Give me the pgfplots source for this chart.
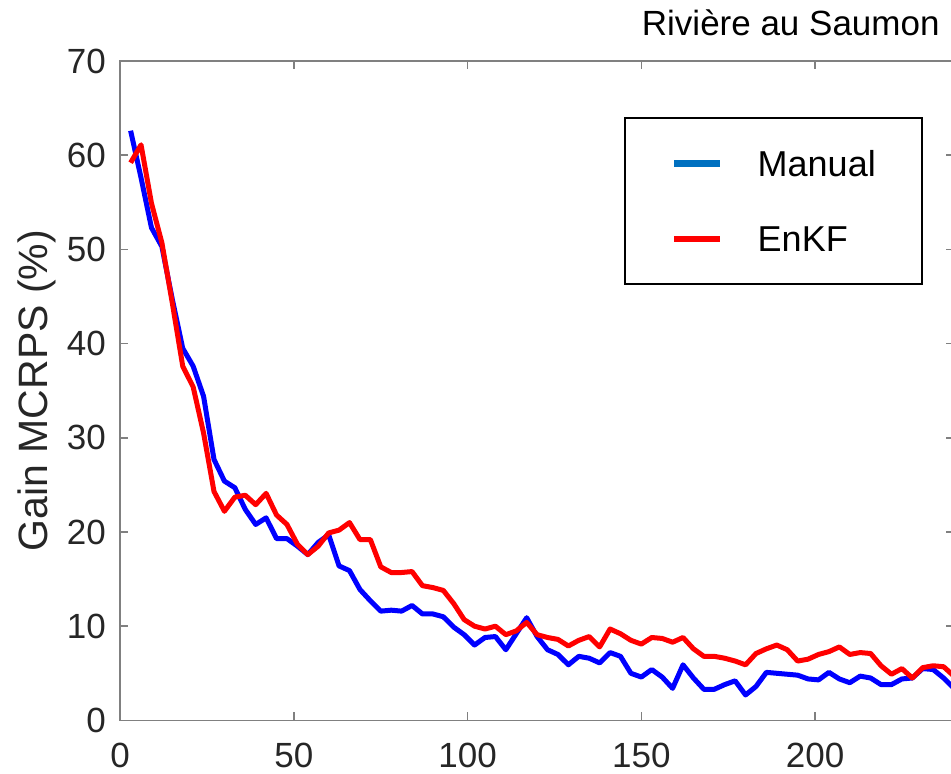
\documentclass[border=0pt]{standalone}
\usepackage{fontspec}
\setmainfont{Liberation Sans}
\usepackage{pgfplots}
\pgfplotsset{compat=1.18}
\definecolor{axgray}{RGB}{128,128,128}
\definecolor{lblgray}{RGB}{38,38,38}
\definecolor{manblue}{RGB}{0,112,192}
\definecolor{mblue}{RGB}{0,0,255}
\definecolor{ered}{RGB}{255,0,0}
\begin{document}
\begin{tikzpicture}
\begin{axis}[
 name=ax, at={(0,0)}, anchor=south west,
 scale only axis, width=416.9pt, height=329.7pt,
 xmin=0, xmax=240, ymin=0, ymax=70,
 xtick={0,50,...,200}, ytick={0,10,...,70},
 tick align=inside, major tick length=4pt,
 axis line style={axgray, line width=0.75pt},
 tick style={axgray, line width=0.75pt},
 tick label style={font=\fontsize{17.5}{17.5}\selectfont, text=lblgray},
 /pgf/number format/assume math mode=true,
 xticklabel style={inner sep=0pt, yshift=-11pt},
 yticklabel style={inner sep=0pt, xshift=-7pt},
 ylabel={Gain MCRPS (\%)},
 ylabel style={at={(rel axis cs:-0.0876,0.5)}, anchor=base, font=\fontsize{20.5}{20.5}\selectfont, text=lblgray, inner sep=0pt},
 title={Rivière au Saumon},
 every axis title shift=0pt,
 title style={at={(rel axis cs:0.9832,1.0387)}, anchor=base east, inner sep=0pt, font=\fontsize{17.5}{17.5}\selectfont},
 legend cell align=left,
 legend style={at={(rel axis cs:0.6046,0.9155)}, anchor=north west, draw=black, line width=1pt,
   inner xsep=22.9pt, inner ysep=16.5pt, row sep=24.9pt, column sep=17pt,
   nodes={inner sep=0pt, text depth=0pt}, font=\fontsize{18}{18}\selectfont},
 legend image code/.code={\draw[#1] (0pt,0pt) -- (23pt,0pt);},
]
\addplot[mblue, line width=2.5pt, line join=round, forget plot] coordinates {
(3,62.6)(6,57.6)(9,52.3)(12,50.3)(15,44.7)(18,39.5)(21,37.6)(24,34.4)(27,27.7)(30,25.4)
(33,24.7)(36,22.4)(39,20.8)(42,21.5)(45,19.3)(48,19.3)(51,18.5)(54,17.6)(57,18.9)(60,19.7)
(63,16.4)(66,15.9)(69,13.9)(72,12.7)(75,11.6)(78,11.7)(81,11.6)(84,12.2)(87,11.3)(90,11.3)
(93,11.0)(96,9.9)(99,9.1)(102,8.0)(105,8.8)(108,8.9)(111,7.5)(114,9.2)(117,10.9)(120,8.9)
(123,7.5)(126,7.0)(129,5.9)(132,6.8)(135,6.6)(138,6.1)(141,7.2)(144,6.8)(147,5.0)(150,4.6)
(153,5.4)(156,4.6)(159,3.4)(162,5.9)(165,4.5)(168,3.3)(171,3.3)(174,3.8)(177,4.2)(180,2.7)
(183,3.6)(186,5.1)(189,5.0)(192,4.9)(195,4.8)(198,4.4)(201,4.3)(204,5.1)(207,4.4)(210,4.0)
(213,4.7)(216,4.5)(219,3.8)(222,3.8)(225,4.4)(228,4.5)(231,5.5)(234,5.4)(237,4.5)(240,3.4)
};
\addplot[ered, line width=2.5pt, line join=round, forget plot] coordinates {
(3,59.2)(6,61.1)(9,54.9)(12,50.7)(15,44.3)(18,37.6)(21,35.4)(24,30.5)(27,24.3)(30,22.2)
(33,23.7)(36,23.9)(39,22.9)(42,24.1)(45,21.8)(48,20.8)(51,18.7)(54,17.6)(57,18.5)(60,19.9)
(63,20.2)(66,21.0)(69,19.2)(72,19.2)(75,16.3)(78,15.7)(81,15.7)(84,15.8)(87,14.3)(90,14.1)
(93,13.8)(96,12.4)(99,10.7)(102,10.0)(105,9.7)(108,10.0)(111,9.1)(114,9.5)(117,10.4)(120,9.1)
(123,8.8)(126,8.6)(129,7.9)(132,8.5)(135,8.9)(138,7.8)(141,9.7)(144,9.2)(147,8.5)(150,8.1)
(153,8.8)(156,8.7)(159,8.3)(162,8.8)(165,7.6)(168,6.8)(171,6.8)(174,6.6)(177,6.3)(180,5.9)
(183,7.1)(186,7.6)(189,8.0)(192,7.5)(195,6.3)(198,6.5)(201,7.0)(204,7.3)(207,7.8)(210,7.0)
(213,7.2)(216,7.1)(219,5.8)(222,4.9)(225,5.5)(228,4.5)(231,5.6)(234,5.8)(237,5.7)(240,4.7)
};
\addlegendimage{manblue, line width=3.3pt}
\addlegendimage{ered, line width=3.3pt}
\legend{Manual, EnKF}
\end{axis}
\pgfresetboundingbox
\useasboundingbox (-60.1pt,-26.8pt) rectangle (415.4pt,360.2pt);
\end{tikzpicture}
\end{document}
